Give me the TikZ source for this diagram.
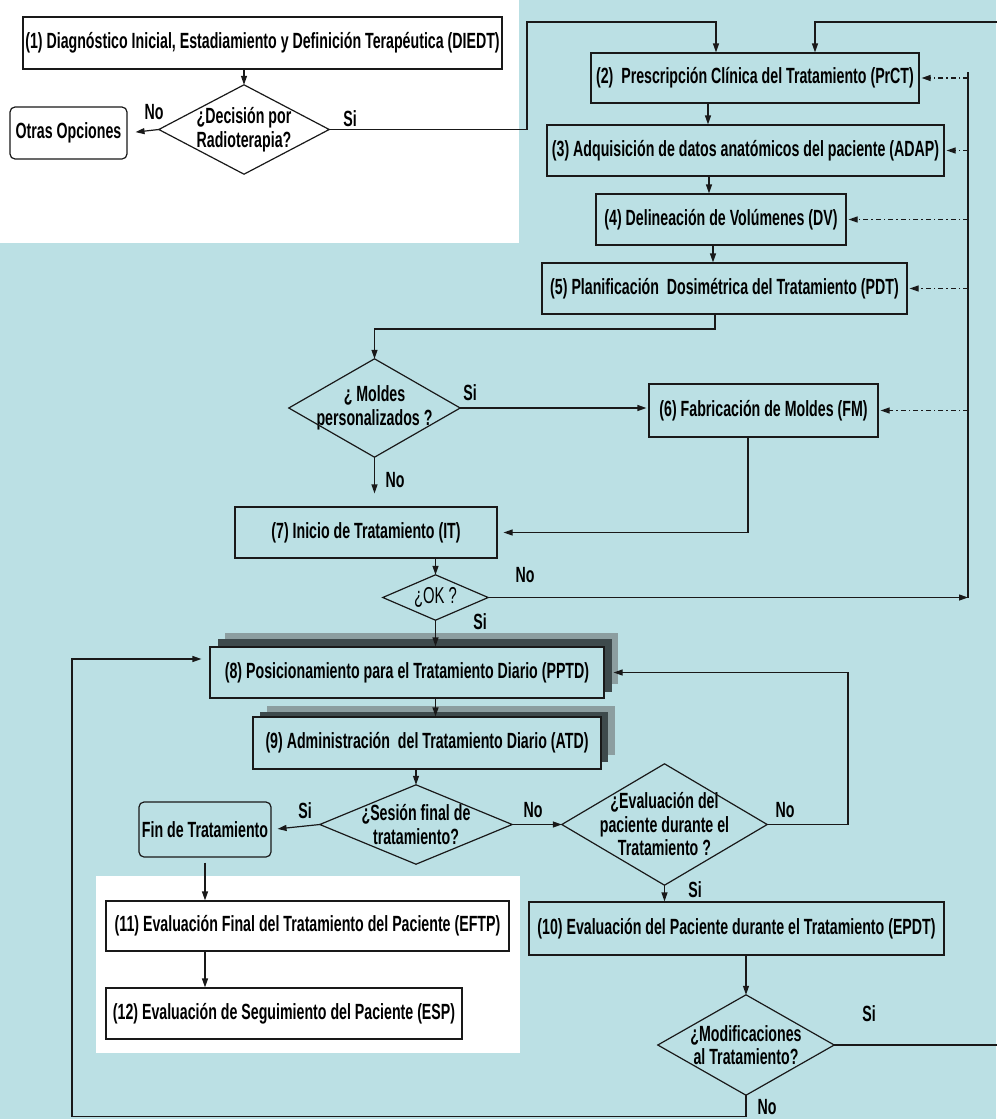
\documentclass[tikz,border=0pt]{standalone}
\usepackage{fontspec}
\setmainfont{Liberation Sans}[FakeStretch=0.645]
\usetikzlibrary{arrows.meta,calc}
\definecolor{bgc}{RGB}{187,224,228}
\definecolor{shdark}{RGB}{62,74,76}
\definecolor{shlight}{RGB}{140,158,160}
\definecolor{lnc}{RGB}{25,25,25}
\begin{document}
\begin{tikzpicture}[x=1pt,y=-1pt,
  every node/.style={font=\fontsize{22}{23.5}\selectfont\bfseries, text=black},
  box/.style={draw=lnc, line width=1.2pt, fill=bgc, inner sep=0pt, align=center},
  wbox/.style={box, fill=white},
  rbox/.style={box, rounded corners=5pt},
  dtext/.style={inner sep=0pt, align=center},
  dline/.style={draw=lnc, line width=1.2pt, line join=miter},
  plain/.style={draw=lnc, line width=1.2pt},
  arr/.style={plain, -{Triangle[length=9pt,width=6pt]}},
  dd/.style={arr, dash pattern=on 5pt off 3pt on 1.5pt off 3pt},
  lbl/.style={inner sep=0pt}
]
\useasboundingbox (0,0) rectangle (996,1119);
\fill[bgc] (0,0) rectangle (996,1119);
\fill[white] (0,0) rectangle (519,243);
\fill[white] (96,876) rectangle (520,1053);

% shadows of the daily boxes
\fill[shlight] (225,633) rectangle (618,684);
\fill[shdark] (218,639) rectangle (612,692);
\fill[shlight] (267,706) rectangle (615,755);
\fill[shdark] (260,712) rectangle (608,762);

% nodes
\node[wbox, minimum width=479pt, minimum height=52pt] (b1) at (262.5,43) {(1) Diagnóstico Inicial, Estadiamiento y Definición Terapéutica (DIEDT)};
\node[rbox, fill=white, minimum width=117pt, minimum height=52pt] (oo) at (68.5,133) {Otras Opciones};
\node[dtext, minimum width=170pt, minimum height=89pt] (d1) at (244,129.5) {¿Decisión por\\Radioterapia?};
\draw[dline] (d1.north)--(d1.east)--(d1.south)--(d1.west)--cycle;

\node[box, minimum width=328pt, minimum height=50pt] (b2) at (755,78) {(2)\ \ Prescripción Clínica del Tratamiento (PrCT)};
\node[box, minimum width=397pt, minimum height=51pt] (b3) at (745.5,150.5) {(3) Adquisición de datos anatómicos del paciente (ADAP)};
\node[box, minimum width=250pt, minimum height=51pt] (b4) at (721,219.5) {(4) Delineación de Volúmenes (DV)};
\node[box, minimum width=365pt, minimum height=51pt] (b5) at (724.5,288.5) {(5) Planificación\ \ Dosimétrica del Tratamiento (PDT)};

\node[dtext, minimum width=171pt, minimum height=98pt] (d2) at (374.5,408) {¿ Moldes\\personalizados ?};
\draw[dline] (d2.north)--(d2.east)--(d2.south)--(d2.west)--cycle;
\node[box, minimum width=229pt, minimum height=53pt] (b6) at (763.5,410.5) {(6) Fabricación de Moldes (FM)};
\node[box, minimum width=262pt, minimum height=51pt] (b7) at (366,532.5) {(7) Inicio de Tratamiento (IT)};
\node[dtext, minimum width=105pt, minimum height=45pt, font=\fontsize{23}{24}\selectfont] (d3) at (435.5,597.5) {¿OK ?};
\draw[dline] (d3.north)--(d3.east)--(d3.south)--(d3.west)--cycle;

\node[box, minimum width=394pt, minimum height=51pt] (b8) at (407,672.5) {(8) Posicionamiento para el Tratamiento Diario (PPTD)};
\node[box, minimum width=348pt, minimum height=52pt] (b9) at (427,743) {(9) Administración\ \ del Tratamiento Diario (ATD)};
\node[dtext, minimum width=192pt, minimum height=79pt] (d4) at (416,824.5) {¿Sesión final de\\tratamiento?};
\draw[dline] (d4.north)--(d4.east)--(d4.south)--(d4.west)--cycle;
\node[rbox, minimum width=132pt, minimum height=55pt] (fin) at (205,829.5) {Fin de Tratamiento};
\node[dtext, minimum width=205pt, minimum height=121pt] (d5) at (664.5,824.5) {¿Evaluación del\\paciente durante el\\Tratamiento ?};
\draw[dline] (d5.north)--(d5.east)--(d5.south)--(d5.west)--cycle;
\node[box, minimum width=415pt, minimum height=53pt] (b10) at (736.5,928.5) {(10) Evaluación del Paciente durante el Tratamiento (EPDT)};
\node[wbox, minimum width=403pt, minimum height=50pt] (b11) at (307.5,926) {(11) Evaluación Final del Tratamiento del Paciente (EFTP)};
\node[wbox, minimum width=356pt, minimum height=51pt] (b12) at (284,1013.5) {(12) Evaluación de Seguimiento del Paciente (ESP)};
\node[dtext, minimum width=176pt, minimum height=100pt] (d6) at (746,1045) {¿Modificaciones\\al Tratamiento?};
\draw[dline] (d6.north)--(d6.east)--(d6.south)--(d6.west)--cycle;

% labels
\node[lbl] (l1) at (154,112) {No};
\node[lbl] (l2) at (350,119) {Si};
\node[lbl] (l3) at (470,393) {Si};
\node[lbl] (l4) at (395,480) {No};
\node[lbl] (l5) at (525,575) {No};
\node[lbl] (l6) at (480,622) {Si};
\node[lbl] (l7) at (305,811) {Si};
\node[lbl] (l8) at (533,810) {No};
\node[lbl] (l9) at (785,810) {No};
\node[lbl] (l10) at (695,890) {Si};
\node[lbl] (l11) at (869,1014) {Si};
\node[lbl] (l12) at (767,1107) {No};

% helper coordinates
\coordinate (c1) at (527,22);
\coordinate (cR) at (998,22);
\coordinate (vl) at (968,0);
\coordinate (vtop) at (968,72);
\coordinate (c5) at (374.5,329);
\coordinate (c8) at (848,672.5);
\coordinate (cb) at (72,1116.5);

% connectors
\draw[arr] (b1.south -| d1.north) -- (d1.north);
\draw[arr, shorten >=8pt] (d1.west) -- (oo.east);
\draw[arr] (d1.east) -| (c1) -| ($(b2.north)+(-39,0)$);
\draw[arr] (d6.east) -| (cR) -| ($(b2.north)+(60,0)$);
\draw[arr] ($(b2.south)+(-47,0)$) -- ($(b3.north)+(-37.5,0)$);
\draw[arr] ($(b3.south)+(-36.5,0)$) -- ($(b4.north)+(-12,0)$);
\draw[arr] ($(b4.south)+(-8,0)$) -- ($(b5.north)+(-11.5,0)$);
\draw[arr] ($(b5.south)+(-9.5,0)$) |- (c5) -- (d2.north);
\draw[arr, shorten >=2pt] (d2.east) -- (d2.east -| b6.west);
\draw[arr, shorten >=13pt] (d2.south) -- (d2.south |- b7.north);
\draw[arr, shorten >=6pt] ($(b6.south)+(-15.5,0)$) |- (b7.east);
\draw[arr] (d3.north |- b7.south) -- (d3.north);
\draw[plain] (vtop) -- (d3.east -| vl);
\draw[arr] (d3.east) -- (d3.east -| vl);
\draw[dd, shorten >=2pt] (b2.east -| vl) -- (b2.east);
\draw[dd, shorten >=2pt] (b3.east -| vl) -- (b3.east);
\draw[dd, shorten >=2pt] (b4.east -| vl) -- (b4.east);
\draw[dd, shorten >=2pt] (b5.east -| vl) -- (b5.east);
\draw[dd, shorten >=2pt] (b6.east -| vl) -- (b6.east);
\draw[arr] (d3.south) -- (d3.south |- b8.north);
\draw[arr] (b8.south -| d3.south) -- (b9.north -| d3.south);
\draw[arr] (d4.north |- b9.south) -- (d4.north);
\draw[arr, shorten >=6pt] (d4.west) -- (fin.east);
\draw[arr] (d4.east) -- (d5.west);
\draw[arr] (d5.east) -| (c8) -- ($(b8.east)+(9,0)$);
\draw[arr] (d5.south) -- (d5.south |- b10.north);
\draw[arr] (d6.north |- b10.south) -- (d6.north);
\draw[arr, shorten >=8pt] (d6.south) |- (cb) |- ($(b8.west)+(0,-13.5)$);
\draw[arr, shorten <=5pt] (fin.south) -- (fin.south |- b11.north);
\draw[arr] (b11.south -| fin.south) -- (b12.north -| fin.south);
\end{tikzpicture}
\end{document}
